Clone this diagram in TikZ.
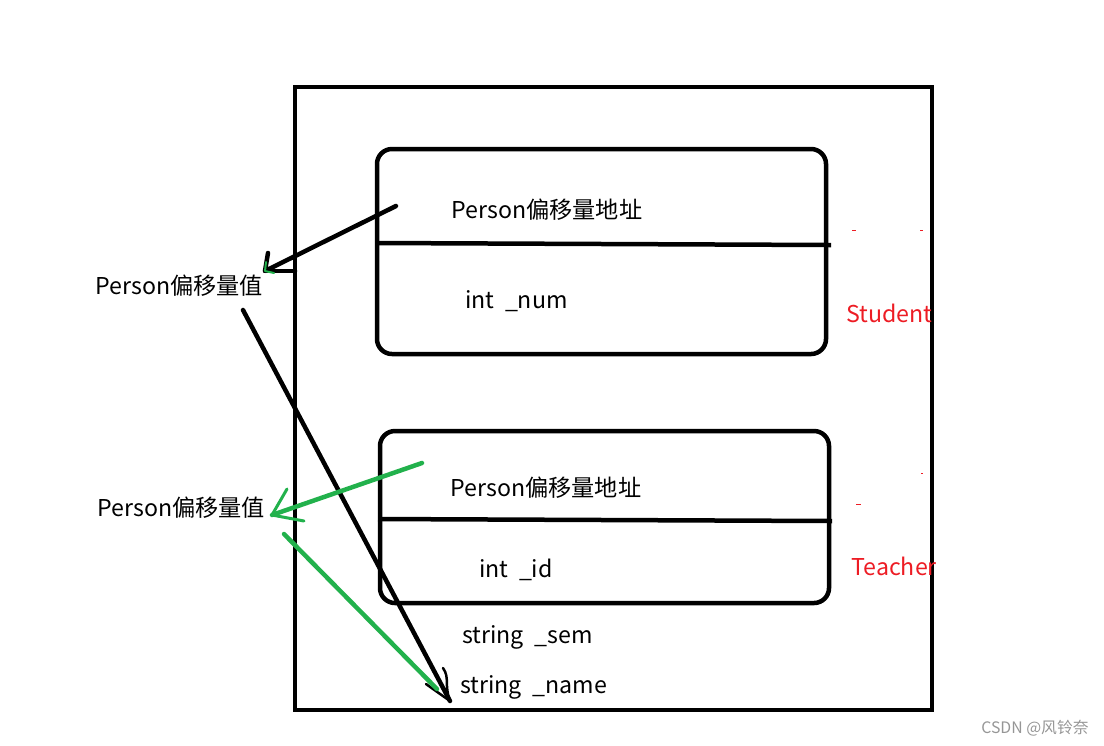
\documentclass[tikz,border=0pt]{standalone}
\usepackage{fontspec}
\setmainfont{Noto Sans CJK SC}
\usetikzlibrary{positioning,calc}
\definecolor{paintgreen}{RGB}{34,177,76}
\definecolor{paintred}{RGB}{237,28,36}
\definecolor{markgray}{RGB}{150,150,150}

\begin{document}
\begin{tikzpicture}[x=0.02cm, y=-0.02cm,
  ink/.style={line width=0.09cm, black, line cap=round, line join=round},
  greenink/.style={line width=0.09cm, paintgreen, line cap=round, line join=round},
  block/.style={line width=0.09cm, rounded corners=0.3cm},
  lbl/.style={font=\fontsize{13.2}{15}\selectfont, anchor=west, inner sep=0pt},
  tag/.style={font=\fontsize{13.2}{15}\selectfont, anchor=west, inner sep=0pt, text=paintred},
]
  \useasboundingbox (0,0) rectangle (1104,745);

  % Outer frame
  \draw[line width=0.09cm] (295,87) rectangle (932,710);

  % Student block
  \draw[block] (377,149) rectangle (826,354);
  \draw[ink, line cap=butt] (377,243) -- (831,245);
  \node[lbl] (stuaddr) at (451,210) {Person偏移量地址};
  \node[lbl] (stunum) at (465,301) {int\ \ \_num};
  \node[tag] (stutag) at (846,313) {Student};

  % Teacher block
  \draw[block] (380,431) rectangle (829,603);
  \draw[ink, line cap=butt] (378,519) -- (832,521);
  \node[lbl] (teaaddr) at (450,488) {Person偏移量地址};
  \node[lbl] (teaid) at (479,570) {int\ \ \_id};
  \node[tag] (teatag) at (851,566) {Teacher};

  % Remaining members
  \node[lbl] (sem) at (462,637) {string\ \ \_sem};
  \node[lbl] (name) at (460,687) {string\ \ \_name};

  % Offset values
  \node[lbl] (val1) at (95,286) {Person偏移量值};
  \node[lbl] (val2) at (97,508) {Person偏移量值};

  % Stray marks
  \foreach \x/\y/\w in {852/230/4, 920/230/3, 921/473/2, 856/504/5}{
    \draw[paintred, line width=0.5pt] (\x,\y) -- ++(\w,0);
  }

  % Connector ends
  \coordinate (s1) at (396,206);
  \coordinate (t1) at (265,271);
  \coordinate (s2) at (243,310);
  \coordinate (t2) at (450,701);
  \coordinate (s3) at (422,463);
  \coordinate (t3) at (272,515);
  \coordinate (s4) at (284,534);
  \coordinate (t4) at (437,689);

  % Black arrows
  \draw[ink] (s1) -- (t1) -- (268,253);
  \draw[ink] (t1) -- (295,271);
  \draw[greenink, line width=0.04cm] (266,262) -- (t1) -- (274,273);
  \draw[ink] (s2) -- (t2);
  \draw[ink, line width=0.05cm] (443,668) .. controls (450,678) and (444,685) .. (t2);
  \draw[ink, line width=0.05cm] (426,684) -- (t2);

  % Green arrows
  \draw[greenink] (s3) -- (t3);
  \draw[greenink, line width=0.06cm] (287,489) -- (t3) -- (304,521);
  \draw[greenink] (s4) -- (t4);

  % Watermark
  \node[font=\fontsize{9}{10}\selectfont, text=markgray, anchor=east, inner sep=0pt] (mark) at (1089,728) {CSDN @风铃奈};
\end{tikzpicture}
\end{document}
